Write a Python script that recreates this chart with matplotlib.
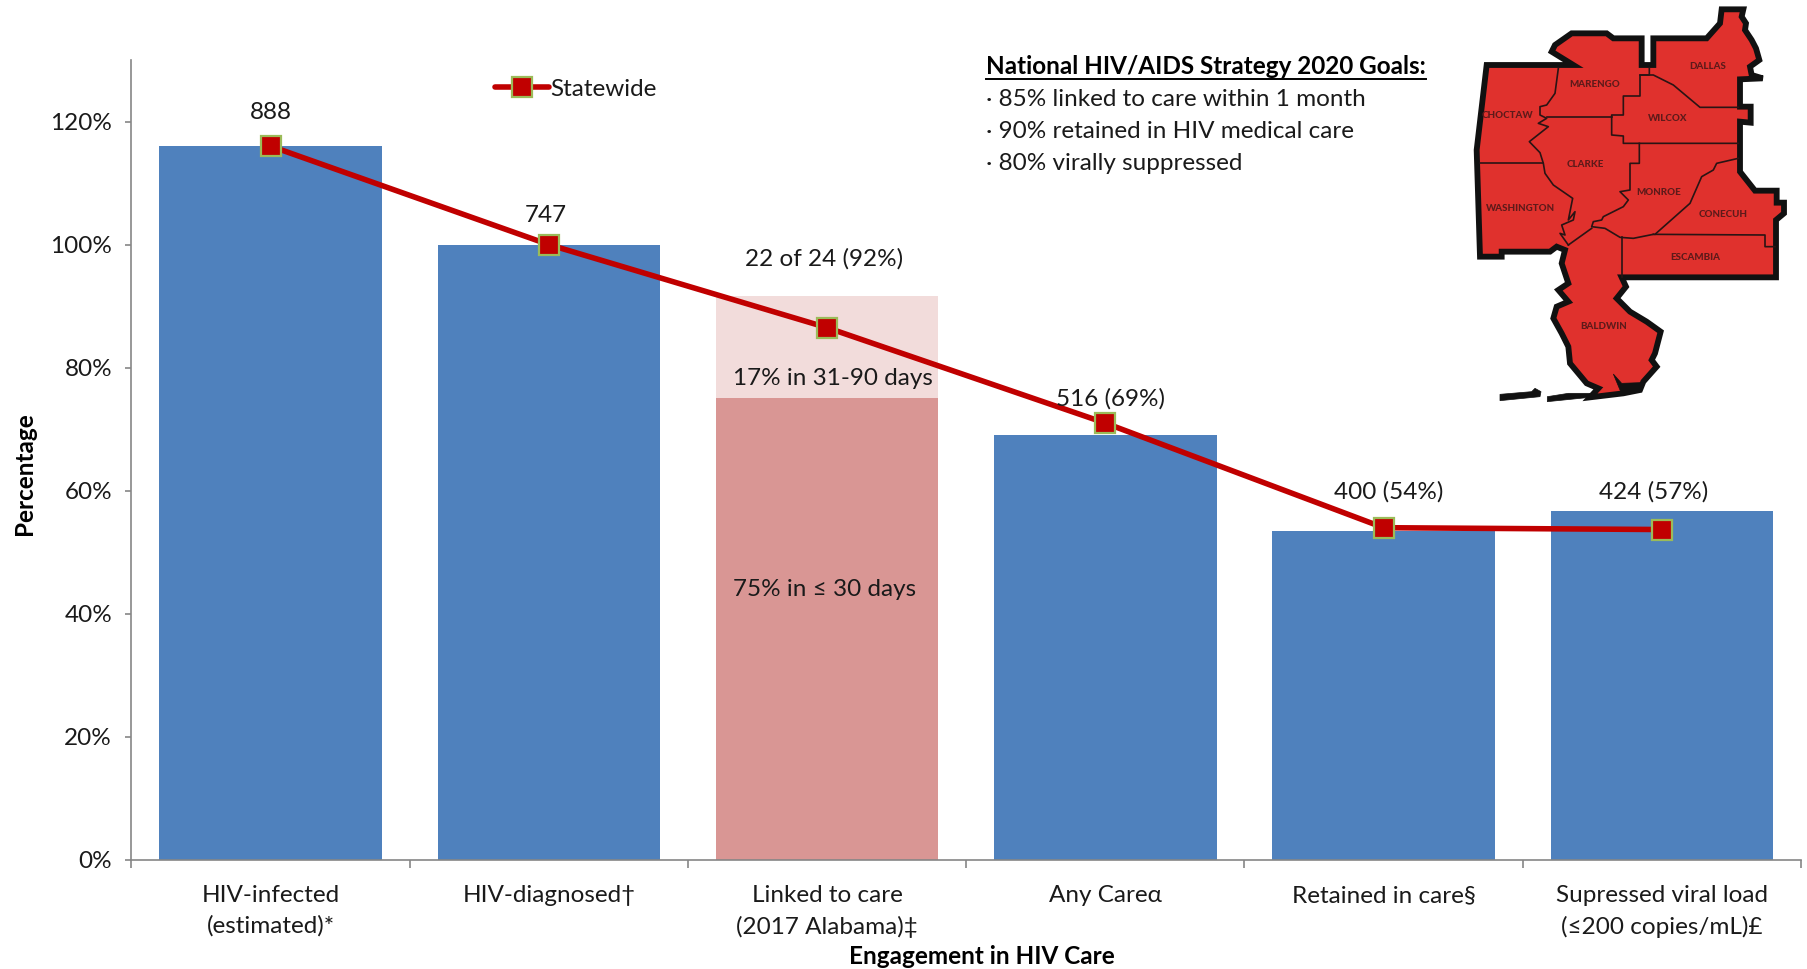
import matplotlib
matplotlib.use('Agg')
import matplotlib.pyplot as plt
from matplotlib.lines import Line2D
from matplotlib.patches import Polygon
from matplotlib.ticker import FuncFormatter

plt.rcParams['font.family'] = ['Lato', 'DejaVu Sans']

W, H = 1808, 969
FONT = 17.5

# Chart data
categories = ['HIV-infected\n(estimated)*', 'HIV-diagnosed†', 'Linked to care\n(2017 Alabama)‡',
              'Any Careα', 'Retained in care§', 'Supressed viral load\n(≤200 copies/mL)£']
bar_values = [116, 100, 0, 69, 53.5, 56.7]
linked_30_days = [0, 0, 75, 0, 0, 0]
linked_90_days = [0, 0, 16.7, 0, 0, 0]
statewide = [116, 100, 86.5, 71, 54, 53.7]
point_labels = ['888', '747', '22 of 24 (92%)', '516 (69%)', '400 (54%)', '424 (57%)']
label_heights = [119.7, 103.1, 95.9, 73.2, 58.0, 58.0]
label_shift = [0, -0.01, -0.01, 0.018, 0.018, -0.028]
goals = ['· 85% linked to care within 1 month',
         '· 90% retained in HIV medical care',
         '· 80% virally suppressed']

# Map inset outlines, in pixels of a 368x420 picture scaled by 3
map_outline = [(845, 28), (910, 28), (905, 50), (918, 70), (915, 90), (935, 120), (948, 145), (958, 180),
               (930, 200), (935, 225), (968, 235), (900, 238), (900, 320), (932, 320), (932, 368), (900, 365),
               (900, 515), (945, 572), (1010, 572), (1010, 608), (1032, 608), (1032, 640), (1008, 660),
               (1008, 832), (545, 832), (558, 860), (530, 895), (570, 935), (620, 965), (662, 995), (645, 1060),
               (635, 1080), (650, 1100), (610, 1145), (600, 1170), (550, 1180), (450, 1192), (475, 1165),
               (440, 1150), (390, 1090), (385, 1040), (365, 1000), (340, 955), (350, 920), (385, 905),
               (355, 870), (385, 850), (365, 790), (375, 750), (350, 740), (330, 755), (185, 755), (185, 770),
               (120, 770), (110, 450), (140, 195), (400, 195), (335, 155), (345, 135), (395, 100), (500, 100),
               (520, 115), (605, 115), (605, 195), (640, 195), (640, 115), (800, 115), (840, 70)]
map_borders = [
    [(355, 205), (345, 280), (320, 315), (300, 320), (300, 345), (320, 355), (295, 370), (325, 380), (268, 425),
     (300, 458), (310, 490), (315, 520), (340, 555), (398, 595), (385, 660), (405, 635), (400, 660), (365, 675),
     (375, 705), (360, 700), (385, 735)],
    [(120, 490), (310, 490)],
    [(320, 352), (515, 352)],
    [(628, 205), (628, 225), (600, 225), (600, 288), (550, 288), (550, 345), (515, 345), (515, 405), (550, 408),
     (550, 430), (895, 430)],
    [(600, 225), (640, 225), (700, 255), (780, 322), (895, 322)],
    [(598, 430), (598, 490), (570, 490), (570, 570), (540, 575), (565, 600), (550, 620), (490, 650), (485, 660),
     (460, 665), (455, 680), (495, 685), (540, 712), (580, 715), (640, 703)],
    [(385, 735), (455, 685)],
    [(645, 703), (750, 610), (785, 530), (820, 510), (830, 490), (895, 475)],
    [(640, 703), (975, 705), (975, 740), (1005, 740)],
    [(545, 712), (545, 830)],
]
map_black = [
    [(520, 1122), (545, 1150), (600, 1148), (600, 1170), (545, 1182)],
    [(180, 1183), (275, 1175), (285, 1165), (303, 1175), (300, 1190), (180, 1202)],
    [(322, 1190), (385, 1180), (450, 1180), (450, 1192), (322, 1205)],
]
map_names = ['DALLAS', 'MARENGO', 'WILCOX', 'CHOCTAW', 'CLARKE', 'MONROE',
             'WASHINGTON', 'CONECUH', 'ESCAMBIA', 'BALDWIN']
map_name_x = [803, 463, 682, 203, 436, 657, 241, 850, 767, 490]
map_name_y = [200, 253, 355, 347, 494, 578, 625, 643, 771, 980]


def main():
    fig = plt.figure(figsize=(W / 100, H / 100), dpi=100)
    ax = fig.add_axes([131.5 / W, 1 - 860 / H, (1801 - 131.5) / W, (860 - 60) / H])

    x = list(range(len(categories)))
    ax.bar(x, bar_values, width=0.8, color='#4F81BD', zorder=2)
    ax.bar(x, linked_30_days, width=0.8, color='#D99694', zorder=2)
    ax.bar(x, linked_90_days, width=0.8, bottom=linked_30_days, color='#F2DCDB', zorder=2)

    line_style = dict(color='#C00000', lw=4, marker='s', ms=14, mfc='#C00000', mec='#9BBB59', mew=1.6)
    ax.plot(x, statewide, zorder=3, **line_style)

    ax.set_xlim(-0.5, 5.5)
    ax.set_ylim(0, 130)
    ax.set_yticks(range(0, 121, 20))
    ax.yaxis.set_major_formatter(FuncFormatter(lambda v, _: f'{v:.0f}%'))
    ax.set_xticks(x)
    ax.set_xticklabels(categories, linespacing=1.53)
    ax.set_xticks([i - 0.5 for i in range(7)], minor=True)
    ax.tick_params(axis='x', which='major', length=0, pad=18, labelsize=FONT, colors='#1a1a1a')
    ax.tick_params(axis='x', which='minor', length=6, width=1.2, color='#868686')
    ax.tick_params(axis='y', length=4, width=1.2, color='#868686', labelsize=FONT, labelcolor='#1a1a1a', pad=10)
    for side in ('top', 'right'):
        ax.spines[side].set_visible(False)
    for side in ('left', 'bottom'):
        ax.spines[side].set_color('#868686')
        ax.spines[side].set_linewidth(1.2)

    fig.text(982 / W, 1 - 956 / H, 'Engagement in HIV Care', ha='center', va='center',
             fontsize=FONT, fontweight='bold', color='black')
    fig.text(25 / W, 1 - 474 / H, 'Percentage', rotation=90, ha='center', va='center',
             fontsize=FONT, fontweight='bold', color='black')

    for i, label in enumerate(point_labels):
        ax.text(i + label_shift[i], label_heights[i], label, ha='center', va='bottom',
                fontsize=FONT, color='#1a1a1a', zorder=4)
    ax.text(2.02, 78.2, '17% in 31-90 days', ha='center', va='center', fontsize=FONT, color='#1a1a1a', zorder=4)
    ax.text(1.99, 44, '75% in ≤ 30 days', ha='center', va='center', fontsize=FONT, color='#1a1a1a', zorder=4)

    handle = Line2D([], [], solid_capstyle='round', **line_style)
    ax.legend([handle], ['Statewide'], loc='center left', bbox_to_anchor=(483 / W, 1 - 89 / H),
              bbox_transform=fig.transFigure, frameon=False, fontsize=FONT, handlelength=2.2,
              handletextpad=0.05, borderpad=0, labelcolor='#1a1a1a')

    # Goals box
    head = fig.text(986 / W, 1 - 67 / H, 'National HIV/AIDS Strategy 2020 Goals:', ha='left', va='center',
                    fontsize=FONT, fontweight='bold', color='black')
    fig.canvas.draw()
    box = head.get_window_extent()
    fig.add_artist(Line2D([box.x0 / W, box.x1 / W], [1 - 79 / H, 1 - 79 / H], color='black', lw=1.4))
    for i, goal in enumerate(goals):
        fig.text(986 / W, 1 - (100 + i * 31.5) / H, goal, ha='left', va='center', fontsize=FONT, color='#1a1a1a')

    # County map
    map_ax = fig.add_axes([1440 / W, 1 - 420 / H, 368 / W, 420 / H])
    map_ax.set_xlim(0, 1104)
    map_ax.set_ylim(1260, 0)
    map_ax.axis('off')
    map_ax.add_patch(Polygon(map_outline, closed=True, fc='#E0312D', ec='#111111', lw=4.2, joinstyle='miter'))
    for border in map_borders:
        map_ax.plot(*zip(*border), color='#2a1414', lw=1.2)
    for piece in map_black:
        map_ax.add_patch(Polygon(piece, closed=True, fc='#111111', ec='#111111', lw=0.5))
    for name, nx, ny in zip(map_names, map_name_x, map_name_y):
        map_ax.text(nx, ny, name, ha='center', va='center', fontsize=7, fontweight='black', color='#5e1a1a')

    fig.savefig('out.png', dpi=100)


if __name__ == '__main__':
    main()
